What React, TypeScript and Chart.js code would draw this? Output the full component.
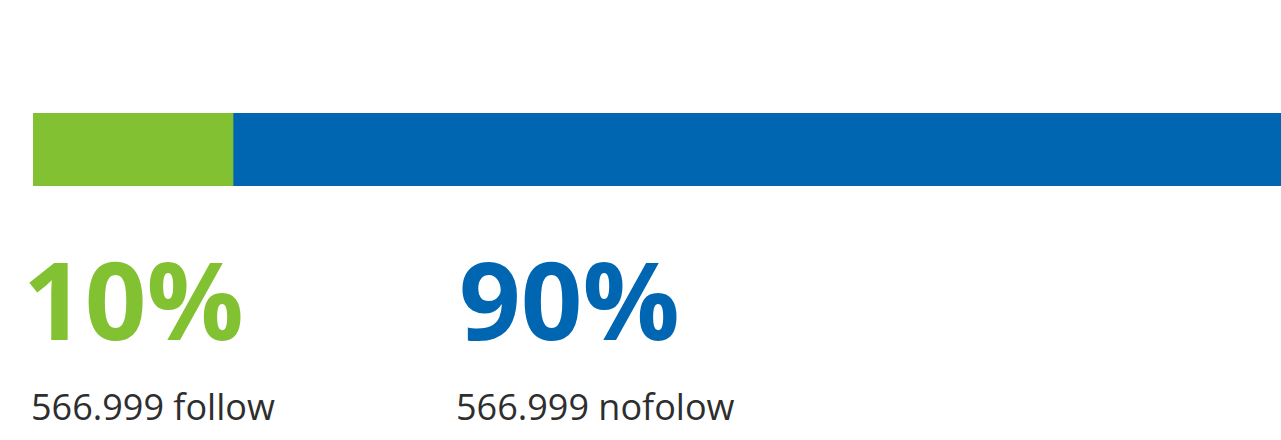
import React, { useEffect, useRef } from "react";
import { Chart, registerables } from "chart.js";

Chart.register(...registerables);

const categories = ["links"];
const seriesNames = ["follow", "nofolow"];
const followValues = [10];
const nofollowValues = [90];
const countLabels = ["566.999", "566.999"];
const percentLabels = ["10%", "90%"];

const GREEN = "#82C132";
const BLUE = "#0066B2";
const TEXT = "#2e2e2e";

export default function App() {
  const ref = useRef<HTMLCanvasElement | null>(null);

  useEffect(() => {
    document.body.style.margin = "0";
    const ctx = ref.current!.getContext("2d")!;
    const chart = new Chart(ctx, {
      type: "bar",
      data: {
        labels: categories,
        datasets: [
          {
            label: seriesNames[0],
            data: followValues,
            backgroundColor: GREEN,
            borderWidth: 0,
            barPercentage: 1,
            categoryPercentage: 1,
          },
          {
            label: seriesNames[1],
            data: nofollowValues,
            backgroundColor: BLUE,
            borderWidth: 0,
            barPercentage: 1,
            categoryPercentage: 1,
          },
        ],
      },
      options: {
        indexAxis: "y",
        responsive: false,
        animation: false,
        maintainAspectRatio: false,
        layout: { padding: { left: 33, right: 0, top: 113, bottom: 0 } },
        plugins: { legend: { display: false }, tooltip: { enabled: false } },
        scales: {
          x: { stacked: true, min: 0, max: 100, display: false },
          y: { stacked: true, display: false },
        },
      },
    });
    return () => chart.destroy();
  }, []);

  const big: React.CSSProperties = {
    position: "absolute",
    fontFamily: "'Open Sans', sans-serif",
    fontWeight: 700,
    fontSize: 108,
    lineHeight: 1,
    top: 245,
    whiteSpace: "nowrap",
  };
  const small: React.CSSProperties = {
    position: "absolute",
    fontFamily: "'Open Sans', sans-serif",
    fontWeight: 400,
    fontSize: 36,
    lineHeight: 1,
    top: 389,
    color: TEXT,
    whiteSpace: "nowrap",
  };

  return (
    <div style={{ position: "relative", width: 1281, height: 440, overflow: "hidden", background: "#fff" }}>
      <canvas ref={ref} width={2033} height={186} style={{ position: "absolute", left: 0, top: 0 }} />
      <div style={{ ...big, left: 23, color: GREEN }}>{percentLabels[0]}</div>
      <div style={{ ...big, left: 459, color: BLUE }}>{percentLabels[1]}</div>
      <div style={{ ...small, left: 31 }}>{countLabels[0]} {seriesNames[0]}</div>
      <div style={{ ...small, left: 456 }}>{countLabels[1]} {seriesNames[1]}</div>
    </div>
  );
}
